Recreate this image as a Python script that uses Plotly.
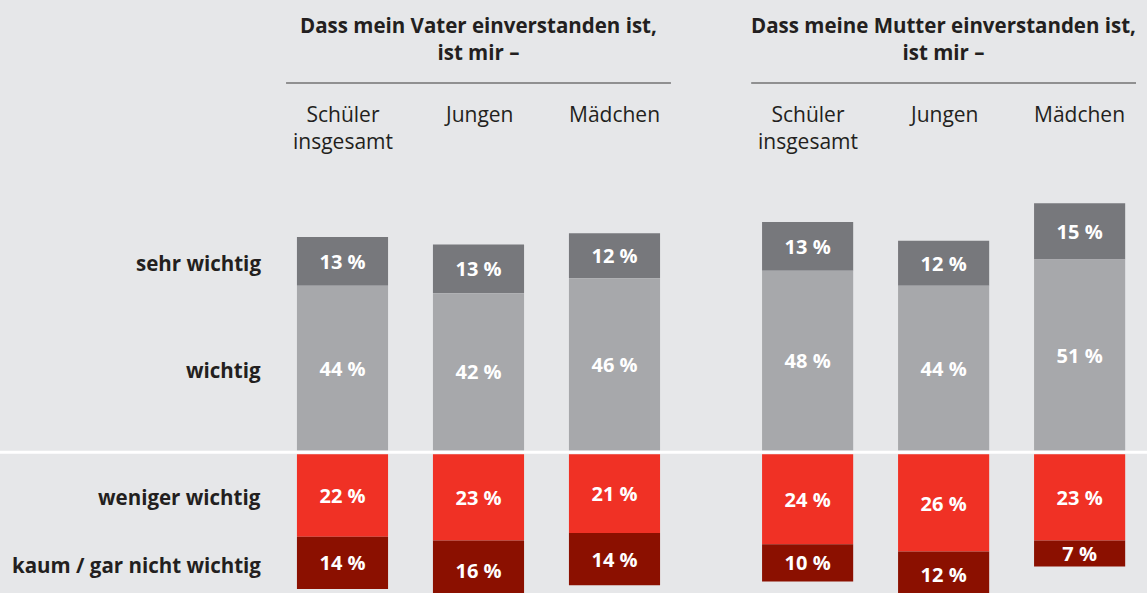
import plotly.graph_objects as go

# ---- data ----
groups = ["Dass mein Vater einverstanden ist,<br>ist mir –", "Dass meine Mutter einverstanden ist,<br>ist mir –"]
categories = ["Schüler<br>insgesamt", "Jungen", "Mädchen"]
series_names = ["sehr wichtig", "wichtig", "weniger wichtig", "kaum / gar nicht wichtig"]
sehr_wichtig = [13, 13, 12, 13, 12, 15]
wichtig = [44, 42, 46, 48, 44, 51]
weniger_wichtig = [22, 23, 21, 24, 26, 23]
kaum_wichtig = [14, 16, 14, 10, 12, 7]

# ---- styling / layout constants ----
W, H = 1147, 593
BG = "#e6e7e9"
TXT = "#231f20"
FONT = "Open Sans"
COLORS = ["#77787c", "#a7a8ab", "#f03125", "#8b1000"]
GROUP_OFFSET = 3.42
BAR_W = 0.67
GAP = 1.0        # gap below the zero line (in %)
LABEL_DROP = 0.7  # small optical shift of value labels (in %)

xpos = [g * GROUP_OFFSET + i for g in range(len(groups)) for i in range(len(categories))]

fig = go.Figure()

def pct(vals):
    return [f"{v} %" for v in vals]

neg1_base = [-GAP] * len(xpos)
neg2_base = [-GAP - w for w in weniger_wichtig]

traces = [
    (series_names[0], sehr_wichtig, wichtig, COLORS[0]),
    (series_names[1], wichtig, [0] * len(xpos), COLORS[1]),
    (series_names[2], [-v for v in weniger_wichtig], neg1_base, COLORS[2]),
    (series_names[3], [-v for v in kaum_wichtig], neg2_base, COLORS[3]),
]
labels = [sehr_wichtig, wichtig, weniger_wichtig, kaum_wichtig]
for (name, y, base, col), lab in zip(traces, labels):
    fig.add_trace(go.Bar(
        x=xpos, y=y, base=base, name=name, width=BAR_W,
        marker=dict(color=col, line=dict(width=0)),
        hovertext=pct(lab), hoverinfo="text",
        cliponaxis=False, showlegend=False,
    ))
    # value labels at segment centres
    centres = [b + v / 2 - LABEL_DROP for b, v in zip(base, y)]
    fig.add_trace(go.Scatter(
        x=xpos, y=centres, mode="text", text=pct(lab),
        textposition="middle center",
        textfont=dict(family=FONT, size=20, color="white", weight="bold"),
        cliponaxis=False, showlegend=False, hoverinfo="skip",
    ))

# y mapping: pixel = 450.5 - v*3.745
SCALE = 3.745
Y0 = 450.5
yr = [-(H - Y0) / SCALE, Y0 / SCALE]
# x mapping: pixel = 342.5 + 136*pos
xr = [-342.5 / 136, (W - 342.5) / 136]

def py(pix):
    return 1 - pix / H

annotations = []
for g, title in enumerate(groups):
    cx = g * GROUP_OFFSET + 1
    annotations.append(dict(x=cx, xref="x", y=py(39), yref="paper",
                            text=f"<b>{title}</b>", showarrow=False,
                            xanchor="center", yanchor="middle", align="center",
                            font=dict(family=FONT, size=20.5, color=TXT)))
    for i, cat in enumerate(categories):
        annotations.append(dict(x=g * GROUP_OFFSET + i, xref="x", y=py(115), yref="paper",
                                text=cat, showarrow=False, xanchor="center", yanchor="top",
                                yshift=17, align="center",
                                font=dict(family=FONT, size=21, color=TXT)))

# row labels at segment centres of the first bar
row_y = [wichtig[0] + sehr_wichtig[0] / 2, wichtig[0] / 2,
         -GAP - weniger_wichtig[0] / 2, -GAP - weniger_wichtig[0] - kaum_wichtig[0] / 2]
for name, yv in zip(series_names, row_y):
    annotations.append(dict(x=263 / W, xref="paper", y=yv, yref="y",
                            text=f"<b>{name}</b>", showarrow=False,
                            xanchor="right", yanchor="middle", yshift=-2,
                            font=dict(family=FONT, size=20.5, color=TXT)))

shapes = []
for g in range(len(groups)):
    shapes.append(dict(type="line", xref="x", yref="paper",
                       x0=g * GROUP_OFFSET - 0.415, x1=g * GROUP_OFFSET + 2.415,
                       y0=py(83), y1=py(83), line=dict(color="#3a3a3a", width=1.2)))
shapes.append(dict(type="line", xref="paper", yref="y", x0=0, x1=1,
                   y0=-GAP / 2, y1=-GAP / 2, line=dict(color="white", width=3), layer="above"))

fig.update_layout(
    width=W, height=H, autosize=False,
    margin=dict(l=0, r=0, t=0, b=0, pad=0),
    paper_bgcolor=BG, plot_bgcolor=BG,
    barmode="overlay",
    xaxis=dict(range=xr, visible=False, fixedrange=True),
    yaxis=dict(range=yr, visible=False, fixedrange=True),
    annotations=annotations, shapes=shapes,
    font=dict(family=FONT, color=TXT),
)

fig.write_html(
    "out.html",
    config={"displayModeBar": False},
    post_script="document.body.style.margin='0';document.body.style.overflow='hidden';"
                "document.body.style.background='" + BG + "';",
)
